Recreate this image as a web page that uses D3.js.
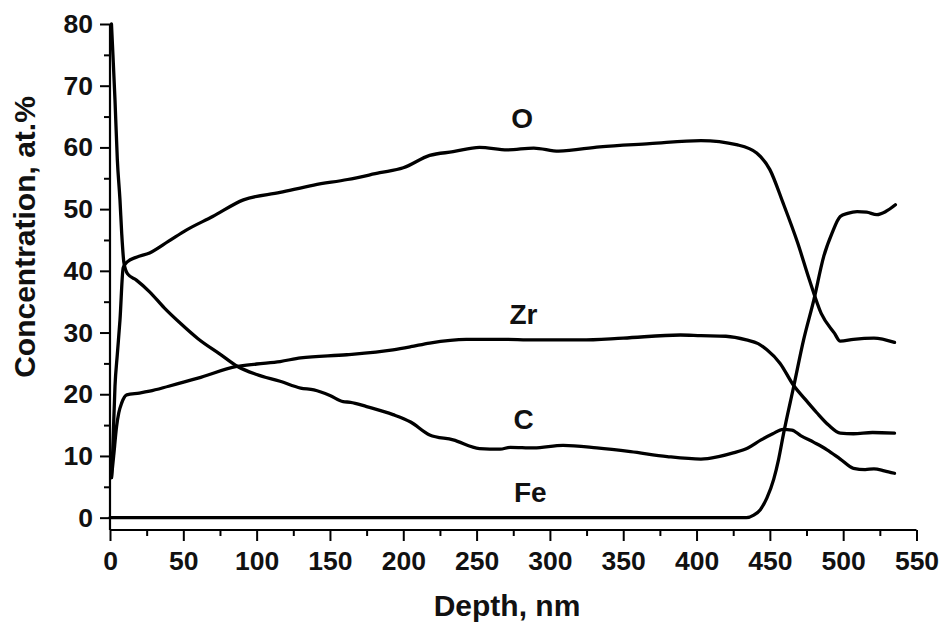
<!DOCTYPE html>
<html>
<head>
<meta charset="utf-8">
<script src="https://cdn.jsdelivr.net/npm/d3@7"></script>
<style>
  html, body { margin: 0; padding: 0; background: #fff; }
  svg { display: block; font-family: "Liberation Sans", Arial, Helvetica, sans-serif; }
</style>
</head>
<body>
<svg id="chart" width="944" height="625"></svg>
<script>
// ---- data ----
const xTicks = [0, 50, 100, 150, 200, 250, 300, 350, 400, 450, 500, 550];
const yTicks = [0, 10, 20, 30, 40, 50, 60, 70, 80];

const cDepth = [1, 2, 3.4, 5, 6.8, 8, 9.5, 12, 18, 27, 37, 48, 60, 75, 87, 100, 116, 130, 139, 150, 159, 164, 175, 193, 205, 218, 234, 252, 266, 273, 289, 309, 332, 355, 380, 403, 415, 425, 435, 444, 452, 459, 465, 471, 480, 489, 498, 507, 515, 521, 528, 535];
const cConc  = [80, 75, 67.7, 58, 51.5, 46, 41.3, 39.5, 38.5, 36.6, 34, 31.5, 29, 26.5, 24.5, 23.2, 22.1, 21, 20.7, 19.8, 18.8, 18.7, 18, 16.7, 15.5, 13.4, 12.6, 11.2, 11.1, 11.4, 11.3, 11.7, 11.3, 10.7, 9.9, 9.5, 9.9, 10.5, 11.3, 12.6, 13.6, 14.3, 14.2, 13.3, 12.2, 11.0, 9.5, 8.0, 7.8, 7.9, 7.6, 7.2];

const oDepth = [1, 1.8, 3.4, 5, 6.8, 9, 12, 18, 27, 40, 52, 70, 91, 116, 139, 162, 184, 200, 218, 234, 252, 271, 289, 306, 334, 368, 403, 428, 441, 450, 459, 469, 477, 485, 494, 498, 507, 521, 535];
const oConc  = [6.5, 10.5, 21.3, 26.5, 32, 40.5, 41.5, 42.2, 42.9, 44.8, 46.6, 48.8, 51.5, 52.7, 53.9, 54.8, 55.9, 56.7, 58.7, 59.3, 60.0, 59.6, 59.9, 59.4, 60.1, 60.6, 61.1, 60.4, 59.1, 56.4, 51.0, 44.5, 38.5, 33.1, 29.9, 28.6, 28.9, 29.1, 28.4];

const zrDepth = [1, 2.5, 4.5, 6, 8, 11.4, 20, 27, 40, 60, 86.5, 100, 116, 130, 161.5, 193, 205, 218, 243, 266, 290, 321, 350, 389, 403, 420, 434, 442, 448, 457, 466, 474, 482, 490, 498, 507, 520, 535];
const zrConc  = [6.5, 10, 14.8, 17, 18.6, 19.9, 20.2, 20.5, 21.3, 22.6, 24.5, 24.9, 25.3, 25.9, 26.4, 27.2, 27.7, 28.3, 28.9, 28.9, 28.8, 28.8, 29.1, 29.6, 29.5, 29.4, 28.8, 28.2, 27.2, 25, 21.5, 19.2, 17.0, 15.0, 13.7, 13.6, 13.8, 13.7];

const feDepth = [0, 434, 439, 443.5, 448, 452.6, 456, 459.4, 466.3, 473, 480, 486.7, 492.4, 498, 503, 509.5, 516, 523, 529, 535.6];
const feConc  = [0, 0, 0.4, 1.3, 3.2, 6.2, 9.5, 13.7, 21.3, 28.8, 35.3, 42.3, 46.1, 48.8, 49.3, 49.6, 49.5, 49.1, 49.6, 50.7];

const seriesNames = ["O", "Zr", "C", "Fe"];
const labelDepth = [281, 282, 282, 286.6];
const labelConc  = [64.7, 33.0, 15.9, 4.0];

// ---- layout ----
const svg = d3.select("#chart");
const x = d3.scaleLinear().domain([0, 550]).range([110, 916.5]);
const y = d3.scaleLinear().domain([-2, 80]).range([530, 24]);

const series = [
  { d: oDepth, c: oConc },
  { d: zrDepth, c: zrConc },
  { d: cDepth, c: cConc },
  { d: feDepth, c: feConc }
];

// axes
const xAxis = d3.axisBottom(x).tickValues(xTicks).tickSize(11).tickPadding(10).tickFormat(d3.format("d"));
const xMinor = d3.axisBottom(x).tickValues(d3.range(25, 550, 50)).tickSize(6).tickFormat("");
const yAxis = d3.axisLeft(y).tickValues(yTicks).tickSize(10).tickPadding(7).tickFormat(d3.format("d"));
const yMinor = d3.axisLeft(y).tickValues(d3.range(5, 80, 10)).tickSize(6).tickFormat("");

function styleAxis(g) {
  g.select(".domain").attr("stroke", "#000").attr("stroke-width", 2.2);
  g.selectAll(".tick line").attr("stroke", "#000").attr("stroke-width", 2);
  g.selectAll(".tick text").attr("fill", "#111").style("font-size", "26.5px").style("font-weight", "bold");
}

const gx = svg.append("g").attr("transform", `translate(0,${y(-2)})`).call(xAxis).call(styleAxis);
svg.append("g").attr("transform", `translate(0,${y(-2)})`).call(xMinor).call(styleAxis).select(".domain").remove();
const gy = svg.append("g").attr("transform", `translate(${x(0)},0)`).call(yAxis).call(styleAxis);
svg.append("g").attr("transform", `translate(${x(0)},0)`).call(yMinor).call(styleAxis).select(".domain").remove();
gy.select(".domain").attr("d", `M0,${y(80)}V${y(-2)}`);
gx.select(".domain").attr("d", `M${x(0)},0H${x(550)}`);

// lines
const line = d3.line()
  .x(p => x(p[0]))
  .y(p => y(p[1]))
  .curve(d3.curveMonotoneX);

svg.append("g").selectAll("path")
  .data(series)
  .join("path")
  .attr("d", s => line(s.d.map((v, i) => [v, s.c[i]])))
  .attr("fill", "none")
  .attr("stroke", "#000")
  .attr("stroke-width", 3.3)
  .attr("stroke-linejoin", "round")
  .attr("stroke-linecap", "round");

// series labels
svg.append("g").selectAll("text")
  .data(seriesNames)
  .join("text")
  .attr("x", (d, i) => x(labelDepth[i]))
  .attr("y", (d, i) => y(labelConc[i]))
  .attr("text-anchor", "middle")
  .attr("dominant-baseline", "central")
  .style("font-size", "28px")
  .style("font-weight", "bold")
  .attr("fill", "#111")
  .text(d => d);

// axis titles
svg.append("text")
  .attr("x", 507)
  .attr("y", 616)
  .attr("text-anchor", "middle")
  .style("font-size", "30px")
  .style("font-weight", "bold")
  .attr("fill", "#111")
  .text("Depth, nm");

svg.append("text")
  .attr("transform", "translate(35,237) rotate(-90)")
  .attr("text-anchor", "middle")
  .style("font-size", "30px")
  .style("font-weight", "bold")
  .attr("fill", "#111")
  .text("Concentration, at.%");
</script>
</body>
</html>
